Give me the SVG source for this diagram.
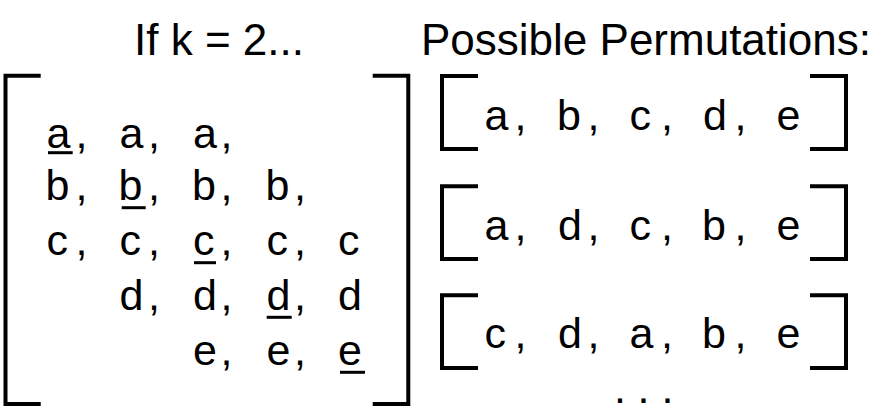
<svg xmlns="http://www.w3.org/2000/svg" width="891" height="414" viewBox="0 0 891 414">
<style>
text{font-family:"Liberation Sans",Arial,Helvetica,sans-serif;fill:#000}
.t{font-size:44px}
.m{font-size:43px}
.br{fill:none;stroke:#000;stroke-width:4;stroke-linejoin:miter;stroke-linecap:butt}
.ul{stroke:#000;stroke-width:3}
</style>
<rect width="891" height="414" fill="#fff"/>
<g id="title-left"><text class="t" x="134" y="55">If k = 2...</text></g>
<g id="title-right"><text class="t" x="421" y="55">Possible Permutations:</text></g>
<g id="matrix">
<path class="br" d="M40.7,75.7 H5.5 V404 H40.7"/>
<path class="br" d="M372.7,75.7 H408.3 V404 H372.7"/>
<text class="m" x="46.5" y="148">a</text><text class="m" x="75.5" y="148">,</text>
<text class="m" x="119.5" y="148">a</text><text class="m" x="148" y="148">,</text>
<text class="m" x="193" y="148">a</text><text class="m" x="220.5" y="148">,</text>

<text class="m" x="45.5" y="200">b</text><text class="m" x="75.5" y="200">,</text>
<text class="m" x="118.5" y="200">b</text><text class="m" x="148" y="200">,</text>
<text class="m" x="192" y="200">b</text><text class="m" x="220.5" y="200">,</text>
<text class="m" x="265.5" y="200">b</text><text class="m" x="294" y="200">,</text>

<text class="m" x="46.5" y="255">c</text><text class="m" x="75.5" y="255">,</text>
<text class="m" x="119.5" y="255">c</text><text class="m" x="148" y="255">,</text>
<text class="m" x="193" y="255">c</text><text class="m" x="220.5" y="255">,</text>
<text class="m" x="266.5" y="255">c</text><text class="m" x="294" y="255">,</text>
<text class="m" x="338" y="255">c</text>

<text class="m" x="119.5" y="310">d</text><text class="m" x="148" y="310">,</text>
<text class="m" x="193" y="310">d</text><text class="m" x="220.5" y="310">,</text>
<text class="m" x="266.5" y="310">d</text><text class="m" x="294" y="310">,</text>
<text class="m" x="338" y="310">d</text>

<text class="m" x="193" y="365">e</text><text class="m" x="220.5" y="365">,</text>
<text class="m" x="266.5" y="365">e</text><text class="m" x="294" y="365">,</text>
<text class="m" x="338" y="365">e</text>
<line class="ul" x1="48" y1="152.7" x2="72.7" y2="152.7"/>
<line class="ul" x1="121.7" y1="207.7" x2="145.7" y2="207.7"/>
<line class="ul" x1="194" y1="262.7" x2="216" y2="262.7"/>
<line class="ul" x1="266.7" y1="317.3" x2="291.7" y2="317.3"/>
<line class="ul" x1="340" y1="372.3" x2="365" y2="372.3"/>
</g>
<g id="perm1">
<path class="br" d="M478,76 H442 V149 H478"/>
<path class="br" d="M810,76 H846 V149 H810"/>
<text class="m" x="484.5" y="130">a</text><text class="m" x="514.5" y="130">,</text>
<text class="m" x="557" y="130">b</text><text class="m" x="587.5" y="130">,</text>
<text class="m" x="629.5" y="130">c</text><text class="m" x="661" y="130">,</text>
<text class="m" x="703" y="130">d</text><text class="m" x="734.5" y="130">,</text>
<text class="m" x="776.5" y="130">e</text>
</g>
<g id="perm2">
<path class="br" d="M478,186.3 H442 V259 H478"/>
<path class="br" d="M810,186.3 H846 V259 H810"/>
<text class="m" x="484.5" y="240">a</text><text class="m" x="514.5" y="240">,</text>
<text class="m" x="558" y="240">d</text><text class="m" x="587.5" y="240">,</text>
<text class="m" x="629.5" y="240">c</text><text class="m" x="661" y="240">,</text>
<text class="m" x="702" y="240">b</text><text class="m" x="734.5" y="240">,</text>
<text class="m" x="776.5" y="240">e</text>
</g>
<g id="perm3">
<path class="br" d="M478,295.3 H442 V368 H478"/>
<path class="br" d="M810,295.3 H846 V368 H810"/>
<text class="m" x="484.5" y="348">c</text><text class="m" x="514.5" y="348">,</text>
<text class="m" x="558" y="348">d</text><text class="m" x="587.5" y="348">,</text>
<text class="m" x="629.5" y="348">a</text><text class="m" x="661" y="348">,</text>
<text class="m" x="702" y="348">b</text><text class="m" x="734.5" y="348">,</text>
<text class="m" x="776.5" y="348">e</text>
</g>
<g id="ellipsis">
<text class="m" x="614" y="403">.</text>
<text class="m" x="637.5" y="403">.</text>
<text class="m" x="661.5" y="403">.</text>
</g>
</svg>
